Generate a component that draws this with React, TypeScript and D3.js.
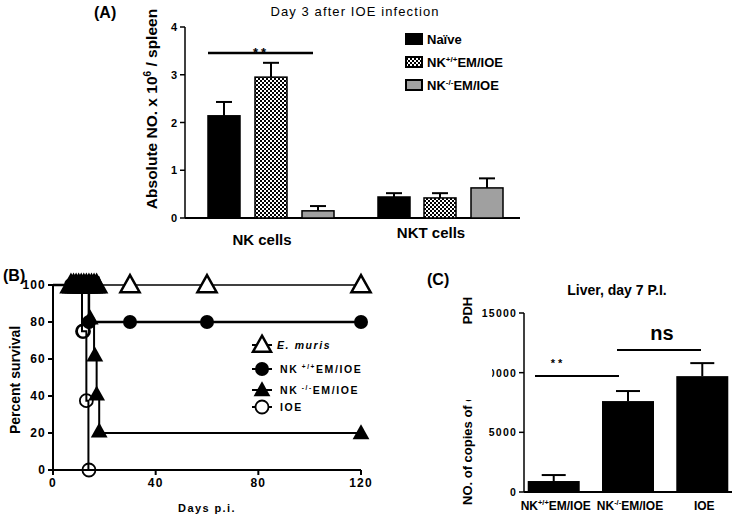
import React from "react";
import * as d3 from "d3";

// ---------- Panel A data ----------
const groupsA = ["NK cells", "NKT cells"];
const seriesA = ["Naïve", "NK+/+EM/IOE", "NK-/-EM/IOE"];
const meansA = [
  [2.14, 2.95, 0.15],
  [0.44, 0.42, 0.63],
];
const errA = [
  [0.29, 0.3, 0.1],
  [0.08, 0.1, 0.2],
];
const ticksA = [0, 1, 2, 3, 4];

// ---------- Panel B data ----------
const ticksBX = [0, 40, 80, 120];
const ticksBY = [0, 20, 40, 60, 80, 100];
const emurisSteps: [number, number][] = [[0, 100], [120, 100]];
const nkppSteps: [number, number][] = [[0, 100], [14, 80], [120, 80]];
const nkmmSteps: [number, number][] = [[0, 100], [14, 80], [16, 60], [17, 40], [18, 20], [120, 20]];
const ioeSteps: [number, number][] = [[0, 100], [11.3, 75], [13, 37.5], [13.8, 0], [13.8, 0]];
const emurisMarks: [number, number][] = [[7, 100], [8, 100], [9, 100], [10, 100], [11, 100], [12, 100], [13, 100], [14, 100], [15, 100], [16, 100], [17, 100], [30, 100], [60, 100], [120, 100]];
const nkppMarks: [number, number][] = [[7, 100], [8, 100], [9, 100], [10, 100], [11, 100], [12, 100], [13, 100], [14, 80], [30, 80], [60, 80], [120, 80]];
const nkmmMarks: [number, number][] = [[7, 100], [8, 100], [9, 100], [10, 100], [11, 100], [12, 100], [13, 100], [14.5, 82], [16.3, 62], [17, 41], [18, 21], [120, 20]];
const ioeMarks: [number, number][] = [[11.5, 75], [11.9, 75], [13, 37.5], [14, 0]];

// ---------- Panel C data ----------
const catsC = ["NK+/+EM/IOE", "NK-/-EM/IOE", "IOE"];
const meansC = [920, 7620, 9710];
const errC = [500, 840, 1090];
const ticksC = [0, 5000, 10000, 15000];

const BOLD = "'Liberation Sans', Arial, sans-serif";
const NARROW = "'Liberation Sans Narrow', 'Liberation Sans', Arial, sans-serif";

function NK({ sup, rest, sz }: { sup: string; rest: string; sz: number }) {
  return (
    <>
      <tspan>NK</tspan>
      <tspan dy={-sz * 0.4} fontSize={sz * 0.62}>{sup}</tspan>
      <tspan dy={sz * 0.4}>{rest}</tspan>
    </>
  );
}

function tri(x: number, y: number, s: number) {
  const h = s * 1.0;
  return `M${x},${y - h * 0.62} L${x + s * 0.6},${y + h * 0.45} L${x - s * 0.6},${y + h * 0.45} Z`;
}

export default function App() {
  // Panel A scales
  const yA = d3.scaleLinear().domain([0, 4]).range([218, 27]);
  const barW = 32;
  const barOffsets = [208, 255, 302];
  const barOffsets2 = [378, 424, 471];
  const labelXA = [262, 431];
  const labelYA = [245, 238];
  const fillsA = ["#000", "url(#checker)", "#a0a0a0"];

  // Panel B scales
  const xB = d3.scaleLinear().domain([0, 120]).range([53, 361]);
  const yB = d3.scaleLinear().domain([0, 100]).range([470, 285]);
  const step = d3.line<[number, number]>().x(d => xB(d[0])).y(d => yB(d[1])).curve(d3.curveStepAfter);

  // Panel C scales
  const xC = d3.scaleBand().domain(catsC).range([524, 732]).paddingInner(0.3).paddingOuter(0.05);
  const yC = d3.scaleLinear().domain([0, 15000]).range([492, 313]);

  return (
    <svg width={733} height={516} style={{ position: "absolute", left: 0, top: 0, background: "#fff" }}>
      <defs>
        <pattern id="checker" width="4" height="4" patternUnits="userSpaceOnUse">
          <rect width="4" height="4" fill="#fff" />
          <rect width="2" height="2" fill="#000" />
          <rect x="2" y="2" width="2" height="2" fill="#000" />
        </pattern>
      </defs>
      <rect width={733} height={516} fill="#fff" />

      {/* ---------------- Panel A ---------------- */}
      <text x={94} y={18} fontFamily={BOLD} fontWeight="bold" fontSize={16}>(A)</text>
      <text x={355} y={16} textAnchor="middle" fontFamily={NARROW} fontSize={13} letterSpacing={1.1}>Day 3 after  IOE infection</text>
      <text transform="translate(157,109) rotate(-90)" textAnchor="middle" fontFamily={BOLD} fontWeight="bold" fontSize={15.5}>
        Absolute NO. x 10<tspan dy={-6} fontSize={10}>6</tspan><tspan dy={6}> / spleen</tspan>
      </text>
      <line x1={185} x2={185} y1={yA(4)} y2={yA(0)} stroke="#000" strokeWidth={1.5} />
      <line x1={185} x2={520} y1={yA(0)} y2={yA(0)} stroke="#000" strokeWidth={2} />
      {ticksA.map(t => (
        <g key={t}>
          <line x1={180} x2={185} y1={yA(t)} y2={yA(t)} stroke="#000" strokeWidth={1.5} />
          <text x={177} y={yA(t) + 4} textAnchor="end" fontFamily={BOLD} fontWeight="bold" fontSize={11}>{t}</text>
        </g>
      ))}
      {groupsA.map((g, gi) => (
        <g key={g}>
          {meansA[gi].map((v, si) => {
            const x = (gi === 0 ? barOffsets : barOffsets2)[si];
            const cx = x + barW / 2;
            return (
              <g key={si}>
                <line x1={cx} x2={cx} y1={yA(v)} y2={yA(v + errA[gi][si])} stroke="#000" strokeWidth={2} />
                <line x1={cx - 8} x2={cx + 8} y1={yA(v + errA[gi][si])} y2={yA(v + errA[gi][si])} stroke="#000" strokeWidth={2} />
                <rect x={x} y={yA(v)} width={barW} height={yA(0) - yA(v)} fill={fillsA[si]} stroke="#000" strokeWidth={1.5} />
              </g>
            );
          })}
          <text x={labelXA[gi]} y={labelYA[gi]} textAnchor="middle" fontFamily={BOLD} fontWeight="bold" fontSize={15}>{g}</text>
        </g>
      ))}
      <line x1={208} x2={313} y1={53} y2={53} stroke="#000" strokeWidth={2.5} />
      <text x={261} y={57} textAnchor="middle" fontFamily={BOLD} fontWeight="bold" fontSize={13} letterSpacing={3}>**</text>
      {seriesA.map((s, i) => {
        const y = 39 + i * 23;
        return (
          <g key={s}>
            <rect x={406} y={y - 5} width={16} height={10} fill={fillsA[i]} stroke="#000" strokeWidth={2} />
            <text x={427} y={y + 5} fontFamily={BOLD} fontWeight="bold" fontSize={13}>
              {i === 0 ? s : <NK sup={i === 1 ? "+/+" : "-/-"} rest="EM/IOE" sz={13} />}
            </text>
          </g>
        );
      })}

      {/* ---------------- Panel B ---------------- */}
      <text x={3} y={281} fontFamily={BOLD} fontWeight="bold" fontSize={16}>(B)</text>
      <text transform="translate(20,380) rotate(-90)" textAnchor="middle" fontFamily={BOLD} fontWeight="bold" fontSize={14}>Percent survival</text>
      <line x1={53} x2={53} y1={yB(100)} y2={yB(0)} stroke="#000" strokeWidth={2} />
      <line x1={53} x2={361} y1={yB(0)} y2={yB(0)} stroke="#000" strokeWidth={2} />
      {ticksBY.map(t => (
        <g key={t}>
          <line x1={48} x2={53} y1={yB(t)} y2={yB(t)} stroke="#000" strokeWidth={2} />
          <text x={46} y={yB(t) + 4} textAnchor="end" fontFamily={NARROW} fontWeight="bold" fontSize={12} letterSpacing={1.2}>{t}</text>
        </g>
      ))}
      {ticksBX.map(t => (
        <g key={t}>
          <line x1={xB(t)} x2={xB(t)} y1={yB(0)} y2={yB(0) + 5} stroke="#000" strokeWidth={2} />
          <text x={xB(t)} y={487} textAnchor="middle" fontFamily={NARROW} fontWeight="bold" fontSize={12} letterSpacing={1.2}>{t}</text>
        </g>
      ))}
      <text x={207} y={512} textAnchor="middle" fontFamily={NARROW} fontWeight="bold" fontSize={11} letterSpacing={1.4}>Days p.i.</text>

      <path d={step(emurisSteps) || ""} fill="none" stroke="#000" strokeWidth={1.5} />
      <path d={step(nkppSteps) || ""} fill="none" stroke="#000" strokeWidth={2.5} />
      <path d={step(nkmmSteps) || ""} fill="none" stroke="#000" strokeWidth={2} />
      <path d={step(ioeSteps) || ""} fill="none" stroke="#000" strokeWidth={2} />

      {emurisMarks.map((m, i) => (
        <path key={"e" + i} d={tri(xB(m[0]), yB(m[1]), 16)} fill="#fff" stroke="#000" strokeWidth={2.5} />
      ))}
      {nkppMarks.map((m, i) => (
        <circle key={"p" + i} cx={xB(m[0])} cy={yB(m[1])} r={7} fill="#000" />
      ))}
      {nkmmMarks.map((m, i) => (
        <path key={"m" + i} d={tri(xB(m[0]), yB(m[1]), 14)} fill="#000" />
      ))}
      {ioeMarks.map((m, i) => (
        <g key={"i" + i}>
          <circle cx={xB(m[0])} cy={yB(m[1])} r={6.5} fill="none" stroke="#000" strokeWidth={1.8} />
        </g>
      ))}
      {/* fill the blob of censored marks */}
      <path d={`M${xB(6.5)},${yB(100) - 9} L${xB(18)},${yB(100) - 9} L${xB(20.5)},${yB(100) + 7} L${xB(4)},${yB(100) + 7} Z`} fill="#000" />

      {/* Legend B */}
      {[
        { label: "E. muris", kind: "otri", y: 345 },
        { label: "pp", kind: "circ", y: 369 },
        { label: "mm", kind: "ftri", y: 390 },
        { label: "IOE", kind: "ocirc", y: 407 },
      ].map(l => (
        <g key={l.label}>
          <line x1={252} x2={272} y1={l.y} y2={l.y} stroke="#000" strokeWidth={2} />
          {l.kind === "otri" && <path d={tri(262, l.y, 15)} fill="#fff" stroke="#000" strokeWidth={2.5} />}
          {l.kind === "circ" && <circle cx={262} cy={l.y} r={7} fill="#000" />}
          {l.kind === "ftri" && <path d={tri(262, l.y, 14)} fill="#000" />}
          {l.kind === "ocirc" && <circle cx={262} cy={l.y} r={6.5} fill="#fff" stroke="#000" strokeWidth={1.8} />}
          <text x={l.kind === "otri" ? 277 : 280} y={l.y + 4} fontFamily={BOLD} fontWeight="bold" fontSize={10.5} letterSpacing={1.6} fontStyle={l.kind === "otri" ? "italic" : "normal"}>
            {l.kind === "circ" ? <NK sup=" +/+" rest="EM/IOE" sz={10.5} /> : l.kind === "ftri" ? <NK sup=" -/-" rest="EM/IOE" sz={10.5} /> : l.label}
          </text>
        </g>
      ))}

      {/* ---------------- Panel C ---------------- */}
      <text x={427} y={285} fontFamily={BOLD} fontWeight="bold" fontSize={16}>(C)</text>
      <text x={617} y={295} textAnchor="middle" fontFamily={BOLD} fontWeight="bold" fontSize={14}>Liver, day 7 P.I.</text>
      <text transform="translate(472,505) rotate(-90)" textAnchor="start" fontFamily={BOLD} fontWeight="bold" fontSize={13}>NO. of copies of dsb / 10⁶ GAPDH</text>
      {ticksC.map(t => (
        <g key={t}>
          <line x1={519} x2={524} y1={yC(t)} y2={yC(t)} stroke="#000" strokeWidth={1.5} />
          <text x={517} y={yC(t) + 4} textAnchor="end" fontFamily={NARROW} fontWeight="bold" fontSize={10.5} letterSpacing={1.2}>{t}</text>
        </g>
      ))}
      <rect x={450} y={324} width={42} height={76} fill="#fff" />
      <line x1={524} x2={524} y1={yC(15000)} y2={yC(0)} stroke="#000" strokeWidth={1.5} />
      <line x1={524} x2={732} y1={yC(0)} y2={yC(0)} stroke="#000" strokeWidth={2} />
      {catsC.map((c, i) => {
        const x = xC(c) as number;
        const w = xC.bandwidth();
        const cx = x + w / 2;
        return (
          <g key={c}>
            <line x1={cx} x2={cx} y1={yC(meansC[i])} y2={yC(meansC[i] + errC[i])} stroke="#000" strokeWidth={2} />
            <line x1={cx - 12} x2={cx + 12} y1={yC(meansC[i] + errC[i])} y2={yC(meansC[i] + errC[i])} stroke="#000" strokeWidth={2} />
            <rect x={x} y={yC(meansC[i])} width={w} height={yC(0) - yC(meansC[i])} fill="#000" />
            <text x={cx + 2} y={510} textAnchor="middle" fontFamily={BOLD} fontWeight="bold" fontSize={12}>
              {i < 2 ? <NK sup={i === 0 ? "+/+" : "-/-"} rest="EM/IOE" sz={12} /> : c}
            </text>
          </g>
        );
      })}
      <line x1={535} x2={619} y1={376} y2={376} stroke="#000" strokeWidth={2} />
      <text x={558} y={367} textAnchor="middle" fontFamily={BOLD} fontWeight="bold" fontSize={11} letterSpacing={3}>**</text>
      <line x1={617} x2={701} y1={350} y2={350} stroke="#000" strokeWidth={2} />
      <text x={662} y={340} textAnchor="middle" fontFamily={BOLD} fontWeight="bold" fontSize={20}>ns</text>
    </svg>
  );
}
